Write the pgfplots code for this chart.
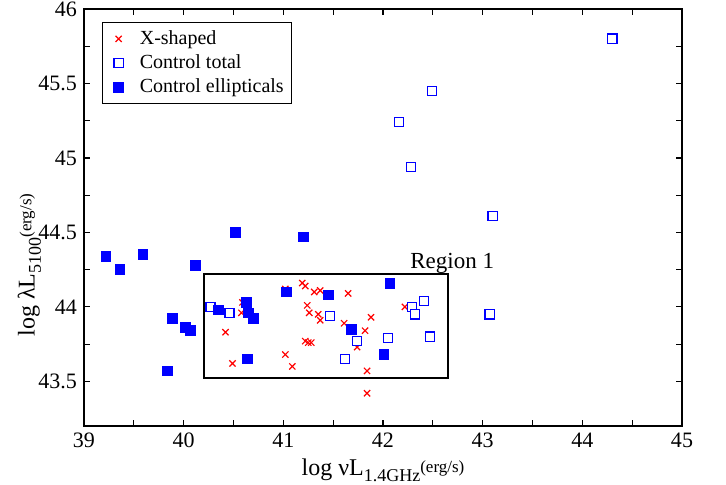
\documentclass[border=0pt]{standalone}
\usepackage{pgfplots}
\pgfplotsset{compat=1.18}
\usepackage{fontspec}
\setmainfont{Liberation Serif}
\definecolor{pblue}{RGB}{0,0,255}
\definecolor{pred}{RGB}{255,0,0}
\newcommand{\smallsub}[1]{\raisebox{-0.55ex}{\fontsize{9}{10}\selectfont #1}}
\newcommand{\smallunit}[1]{\raisebox{0.3ex}{\fontsize{8.5}{10}\selectfont #1}}
\pgfplotsset{myleg/.style={legend image code/.code={\path (-5.75pt,0pt) (8.25pt,0pt); \draw[##1] plot coordinates {(0pt,0pt)};}}}
\begin{document}
\begin{tikzpicture}
\useasboundingbox (0,0) rectangle (363pt,242pt);
\begin{axis}[
  at={(42pt,29pt)}, anchor=south west,
  width=299pt, height=208.5pt, scale only axis,
  xmin=39, xmax=45, ymin=43.2, ymax=46,
  xtick={39,40,41,42,43,44,45},
  ytick={43.5,44,44.5,45,45.5,46},
  minor x tick num=1, minor y tick num=1,
  tick pos=both, tick align=inside,
  major tick length=3pt, minor tick length=3pt,
  axis line style={line width=0.6pt},
  every tick/.style={line width=0.6pt, black},
  /pgf/number format/assume math mode=true,
  tick label style={font=\fontsize{11}{13}\selectfont},
  yticklabel style={/pgf/number format/fixed},
  label style={font=\fontsize{12}{14}\selectfont},
  xlabel={log νL\smallsub{1.4GHz}\smallunit{(erg/s)}},
  ylabel={log λL\smallsub{5100}\smallunit{(erg/s)}},
  xlabel style={at={(axis description cs:0.5,0)}, anchor=north, yshift=-13pt},
  ylabel style={at={(axis description cs:0,0.386)}, anchor=south, yshift=18pt},
  legend style={at={(0.03,0.969)}, anchor=north west, draw=black, line width=0.5pt,
    font=\fontsize{10}{11}\selectfont, row sep=-0.3pt, inner xsep=2pt, inner ysep=2pt},
  legend cell align=left,
]
\addplot[only marks, mark=x, color=pred, mark size=2.2pt, line width=0.6pt, myleg] coordinates {
(40.42,43.83) (40.49,43.62) (40.58,43.96) (40.59,44.03) (41.02,44.12)
(41.02,43.68) (41.09,43.60) (41.19,44.16) (41.22,44.14) (41.31,44.10)
(41.37,44.11) (41.24,44.01) (41.26,43.96) (41.35,43.95) (41.37,43.91)
(41.22,43.77) (41.25,43.76) (41.28,43.76) (41.65,44.09) (41.61,43.89)
(41.88,43.93) (41.82,43.84) (41.74,43.73) (41.84,43.57) (41.84,43.42)
(42.22,44.00)
};
\addlegendentry{X-shaped}
\addplot[only marks, mark=square*, color=pblue, mark options={fill=white}, mark size=2.3pt, line width=0.7pt, myleg] coordinates {
(40.27,44.00) (40.46,43.96) (41.47,43.94) (41.74,43.77) (41.62,43.65)
(42.05,43.79) (42.29,44.00) (42.32,43.95) (42.41,44.04) (42.47,43.80)
(44.30,45.80) (42.49,45.45) (42.16,45.24) (42.28,44.94) (43.10,44.61)
(43.07,43.95)
};
\addlegendentry{Control total}
\addplot[only marks, mark=square*, color=pblue, mark size=2.45pt, myleg] coordinates {
(39.22,44.34) (39.36,44.25) (39.59,44.35) (40.12,44.28) (39.89,43.92)
(40.02,43.86) (40.07,43.84) (39.84,43.57) (40.35,43.98) (40.63,44.03)
(40.65,43.96) (40.70,43.92) (40.64,43.65) (41.03,44.10) (41.45,44.08)
(42.07,44.16) (41.68,43.85) (42.01,43.68) (40.52,44.50) (41.20,44.47)
};
\addlegendentry{Control ellipticals}
\draw[line width=1pt] (axis cs:40.2,43.52) rectangle (axis cs:42.65,44.22);
\node[anchor=base west, font=\fontsize{11.5}{13}\selectfont, inner sep=0pt] at (axis cs:42.27,44.255) {Region 1};
\end{axis}
\end{tikzpicture}
\end{document}
